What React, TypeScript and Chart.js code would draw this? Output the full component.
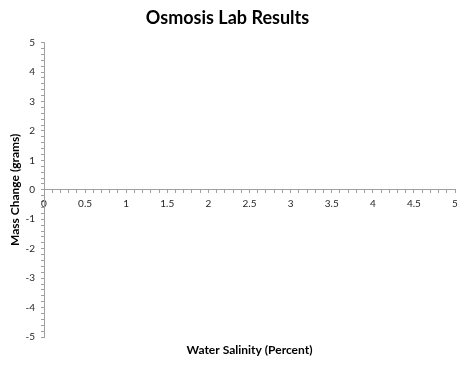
import React, { useEffect, useRef } from "react";
import { Chart, registerables } from "chart.js";

Chart.register(...registerables);

const chartTitle = "Osmosis Lab Results";
const xTitle = "Water Salinity (Percent)";
const yTitle = "Mass Change (grams)";
// The reference chart is empty: no plotted points
const salinity: number[] = [];
const massChange: number[] = [];
const xRange = [0, 5];
const yRange = [-5, 5];
const xMajorStep = 0.5;
const xMinorStep = 0.1;
const yMajorStep = 1;
const yMinorStep = 0.2;

const FONT = "Lato, 'Open Sans', 'DejaVu Sans', sans-serif";
const AXIS_COLOR = "#a0a0a0";
const TEXT_COLOR = "#262626";

function isMultiple(v: number, step: number) {
  const r = v / step;
  return Math.abs(r - Math.round(r)) < 1e-6;
}

export default function App() {
  const ref = useRef<HTMLCanvasElement | null>(null);
  useEffect(() => {
    if (!ref.current) return;
    const data = salinity.map((x, i) => ({ x, y: massChange[i] }));
    const chart = new Chart(ref.current, {
      type: "scatter",
      data: {
        datasets: [
          {
            label: "Series1",
            data,
            backgroundColor: "#4472c4",
            borderColor: "#4472c4",
          },
        ],
      },
      options: {
        animation: false,
        responsive: false,
        maintainAspectRatio: false,
        layout: { padding: { left: 0, right: 11, top: 0, bottom: 0 } },
        plugins: {
          legend: { display: false },
          tooltip: { enabled: false },
          title: {
            display: true,
            text: chartTitle,
            color: "#000",
            font: { family: FONT, size: 18, weight: "bold" },
            padding: { top: 7, bottom: 14 },
          },
        },
        scales: {
          x: {
            type: "linear",
            min: xRange[0],
            max: xRange[1],
            position: { y: 0 },
            grid: {
              display: true,
              drawOnChartArea: false,
              drawTicks: true,
              tickLength: 3,
              color: AXIS_COLOR,
            },
            border: { display: true, color: AXIS_COLOR, width: 1 },
            ticks: {
              stepSize: xMinorStep,
              autoSkip: false,
              maxRotation: 0,
              padding: 5,
              color: TEXT_COLOR,
              font: { family: FONT, size: 10 },
              callback: (v: any) => {
                const n = Number(v);
                if (!isMultiple(n, xMajorStep)) return "";
                return String(Math.round(n / xMajorStep) * xMajorStep);
              },
            },
          },
          x2: {
            type: "linear",
            position: "bottom",
            min: xRange[0],
            max: xRange[1],
            grid: { display: false, drawTicks: false },
            border: { display: false },
            ticks: { display: false },
            title: {
              display: true,
              text: xTitle,
              color: "#000",
              font: { family: FONT, size: 12, weight: "bold" },
              padding: { top: 6, bottom: 8 },
            },
            afterFit: (s: any) => {
              s.height = 28;
            },
          },
          y: {
            type: "linear",
            min: yRange[0],
            max: yRange[1],
            position: "left",
            grid: {
              display: true,
              drawOnChartArea: false,
              drawTicks: true,
              tickLength: 3,
              color: AXIS_COLOR,
            },
            border: { display: true, color: AXIS_COLOR, width: 1 },
            ticks: {
              stepSize: yMinorStep,
              autoSkip: false,
              padding: 6,
              color: TEXT_COLOR,
              font: { family: FONT, size: 10 },
              callback: (v: any) => {
                const n = Number(v);
                if (!isMultiple(n, yMajorStep)) return "";
                return String(Math.round(n));
              },
            },
            title: {
              display: true,
              text: yTitle,
              color: "#000",
              font: { family: FONT, size: 12, weight: "bold" },
              padding: { top: 8, bottom: 4 },
            },
            afterFit: (s: any) => {
              s.width = 44;
            },
          },
        },
      },
    } as any);
    return () => chart.destroy();
  }, []);

  return (
    <div style={{ position: "fixed", left: 0, top: 0, width: 466, height: 365, background: "#fff" }}>
      <canvas ref={ref} width={466} height={365} style={{ width: 466, height: 365 }} />
    </div>
  );
}
